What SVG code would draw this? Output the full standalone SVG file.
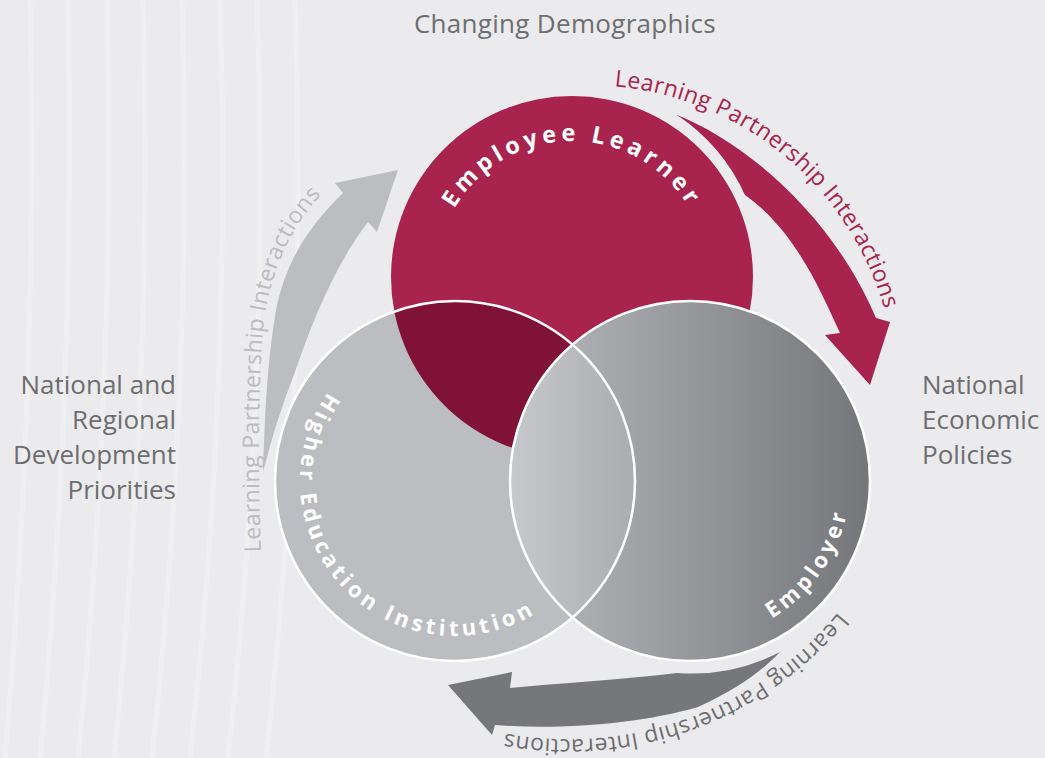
<svg xmlns="http://www.w3.org/2000/svg" width="1045" height="758" viewBox="0 0 1045 758">
<style>
.side{font-family:"Open Sans","Liberation Sans",sans-serif;font-size:26px;fill:#6d6e71}
.lpi{font-family:"Open Sans","Liberation Sans",sans-serif;font-size:23px;letter-spacing:0.4px}
.lbl{font-family:"Open Sans","Liberation Sans",sans-serif;font-weight:bold;font-size:22px;fill:#ffffff;letter-spacing:4px}
.big{font-size:23.5px;letter-spacing:4.5px}
.stripe{fill:none;stroke:#ffffff;stroke-opacity:0.25;stroke-width:5}
.ring{fill:none;stroke:#ffffff;stroke-width:2.5}
</style>
<defs>
<linearGradient id="gEmp" gradientUnits="userSpaceOnUse" x1="510" y1="0" x2="870" y2="0">
<stop offset="0" stop-color="#b9babd"/>
<stop offset="1" stop-color="#75767a"/>
</linearGradient>
<linearGradient id="gLens" gradientUnits="userSpaceOnUse" x1="510" y1="0" x2="635" y2="0">
<stop offset="0" stop-color="#c7c8cb"/>
<stop offset="1" stop-color="#abacaf"/>
</linearGradient>
<clipPath id="cHEI"><circle cx="455" cy="481" r="180"/></clipPath>
<clipPath id="cEmp"><circle cx="690" cy="481" r="180"/></clipPath>
<path id="pEL" d="M444.2,230.5 A136,136 0 0 1 699.8,230.5"/>
<path id="pHEI" d="M358.5,359.7 A155,155 0 1 0 571.1,583.7"/>
<path id="pEmp" d="M676.1,640.4 A160,160 0 0 0 835,413.4"/>
<path id="pRed" d="M614.3,86.4 A308,308 0 0 1 894.8,366.3"/>
<path id="pBot" d="M838.3,612 A349,349 0 0 1 478.8,727.5"/>
<path id="pLeft" d="M261,552 C258,470 258,390 263,330 C270,265 296,220 324,192"/>
</defs>
<rect width="1045" height="758" fill="#ebebed"/>
<g id="stripes">
<path class="stripe" d="M30,0 Q38,380 5,758"/>
<path class="stripe" d="M68,0 Q76,380 40,758"/>
<path class="stripe" d="M107,0 Q116,380 78,758"/>
<path class="stripe" d="M143,0 Q153,380 114,758"/>
<path class="stripe" d="M182,0 Q193,380 152,758"/>
<path class="stripe" d="M220,0 Q232,380 190,758"/>
<path class="stripe" d="M257,0 Q270,380 228,758"/>
<path class="stripe" d="M295,0 Q308,380 266,758"/>
</g>
<g id="context-labels">
<text class="side" x="565" y="33" text-anchor="middle" letter-spacing="0.3">Changing Demographics</text>
<text class="side" text-anchor="end"><tspan x="176" y="394">National and</tspan><tspan x="176" y="429">Regional</tspan><tspan x="176" y="464">Development</tspan><tspan x="176" y="499">Priorities</tspan></text>
<text class="side"><tspan x="922" y="394">National</tspan><tspan x="922" y="429">Economic</tspan><tspan x="922" y="464">Policies</tspan></text>
</g>
<g id="connectors">
<path id="arrow-red" fill="#a8234e" d="M677,115 C740,140 830,210 876,318 L890,322 L870,385 L825,335 L840,333 C820,290 795,230 745,195 A192,192 0 0 0 677,115 Z"/>
<path id="arrow-left" fill="#bcbdc0" d="M263,472 C265,420 266,370 276,310 C286,260 310,225 343,193 L335,183 L398,170 L377,232 L368,222 C335,265 312,322 295,372 Q276,420 263,472 Z"/>
<path id="arrow-bottom" fill="#76777b" d="M780,652 A192,192 0 0 1 677,673 C620,680 560,683 510,688 L512,672 L448,685 L492,735 L495,725 C560,730 640,724 698,707 C740,688 765,668 780,652 Z"/>
<text class="lpi" fill="#a8234e"><textPath href="#pRed">Learning Partnership Interactions</textPath></text>
<text class="lpi" fill="#bbbcbf"><textPath href="#pLeft">Learning Partnership Interactions</textPath></text>
<text class="lpi" fill="#6d6e71"><textPath href="#pBot">Learning Partnership Interactions</textPath></text>
</g>
<g id="employee-learner">
<circle cx="572" cy="277" r="181" fill="#a8234e"/>
</g>
<g id="higher-education-institution">
<circle cx="455" cy="481" r="180" fill="#bcbdc0"/>
<circle cx="572" cy="277" r="181" fill="#801137" clip-path="url(#cHEI)"/>
</g>
<g id="employer">
<circle cx="690" cy="481" r="180" fill="url(#gEmp)"/>
<circle cx="455" cy="481" r="180" fill="url(#gLens)" clip-path="url(#cEmp)"/>
</g>
<g id="outlines">
<circle class="ring" cx="455" cy="481" r="180"/>
<circle class="ring" cx="690" cy="481" r="180"/>
</g>
<g id="circle-labels">
<text class="lbl big" text-anchor="middle"><textPath href="#pEL" startOffset="50%">Employee Learner</textPath></text>
<text class="lbl" text-anchor="middle"><textPath href="#pHEI" startOffset="50%">Higher Education Institution</textPath></text>
<text class="lbl" text-anchor="middle"><textPath href="#pEmp" startOffset="50%">Employer</textPath></text>
</g>
</svg>
